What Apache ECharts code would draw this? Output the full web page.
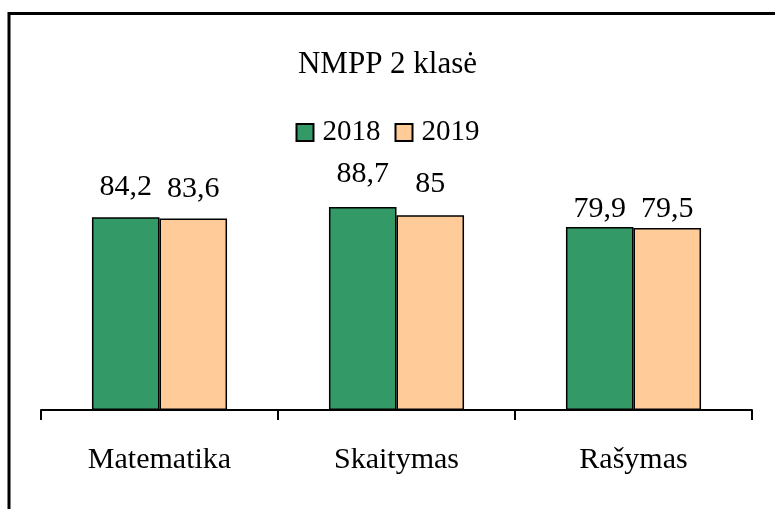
<!DOCTYPE html>
<html>
<head>
<meta charset="utf-8">
<script src="https://cdn.jsdelivr.net/npm/echarts@6/dist/echarts.min.js"></script>
<style>
  html, body { margin: 0; padding: 0; background: #fff; }
  #chart { width: 775px; height: 509px; }
</style>
</head>
<body>
<div id="chart"></div>
<script>
const categories = ['Matematika', 'Skaitymas', 'Rašymas']
const seriesNames = ['2018', '2019']
const values2018 = [84.2, 88.7, 79.9]
const values2019 = [83.6, 85, 79.5]

// label gap above each bar, as Excel placed them
const labelGap2018 = [15, 18, 3]
const labelGap2019 = [14, 16, 4]

const font = '"Liberation Serif", "Times New Roman", serif'
const fmt = v => String(v).replace('.', ',')

const chart = echarts.init(document.getElementById('chart'))

const makeSeries = (name, values, color, gaps) => ({
  name,
  type: 'bar',
  barGap: '0%',
  barCategoryGap: '43%',
  itemStyle: { color, borderColor: '#000', borderWidth: 1.5 },
  label: {
    show: true,
    position: 'top',
    color: '#000',
    fontFamily: font,
    fontSize: 30,
    formatter: p => fmt(p.value)
  },
  data: values.map((v, i) => ({ value: v, label: { distance: gaps[i] } }))
})

chart.setOption({
  animation: false,
  backgroundColor: '#fff',
  graphic: [{
    type: 'rect',
    shape: { x: 9, y: 13.5, width: 820, height: 560 },
    style: { fill: 'none', stroke: '#000', lineWidth: 3 },
    silent: true
  }],
  title: {
    text: 'NMPP 2 klasė',
    left: 'center',
    top: 44,
    textStyle: { fontFamily: font, fontSize: 31, fontWeight: 'normal', color: '#000' }
  },
  legend: {
    top: 113,
    left: 'center',
    itemWidth: 17,
    itemHeight: 17,
    itemGap: 14,
    icon: 'rect',
    itemStyle: { borderColor: '#000', borderWidth: 2 },
    textStyle: { fontFamily: font, fontSize: 29, color: '#000', padding: [0, 0, 0, 4] },
    data: seriesNames
  },
  grid: { left: 41, right: 23, top: 181, bottom: 99 },
  xAxis: {
    type: 'category',
    data: categories,
    axisLine: { lineStyle: { color: '#000', width: 2 } },
    axisTick: { show: true, length: 10, lineStyle: { color: '#000', width: 2 } },
    axisLabel: { fontFamily: font, fontSize: 30, color: '#000', margin: 35 }
  },
  yAxis: {
    type: 'value',
    min: 0,
    max: 100,
    show: false,
    splitLine: { show: false }
  },
  series: [
    makeSeries(seriesNames[0], values2018, '#339966', labelGap2018),
    makeSeries(seriesNames[1], values2019, '#ffcc99', labelGap2019)
  ]
})
</script>
</body>
</html>
